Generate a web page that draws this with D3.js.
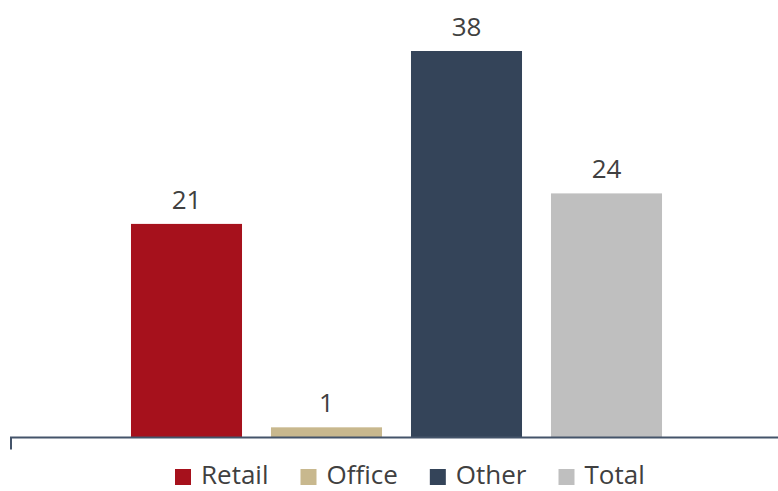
<!DOCTYPE html>
<html><head><meta charset="utf-8">
<script src="https://cdn.jsdelivr.net/npm/d3@7"></script>
<style>body{margin:0;background:#fff;} svg{display:block;}</style>
</head><body>
<svg id="c" width="778" height="491"></svg>
<script>
const categories = ["Retail", "Office", "Other", "Total"];
const values = [21, 1, 38, 24];
const colors = ["#A6111C", "#C8B88E", "#344459", "#BFBFBF"];

const svg = d3.select("#c");
const font = "'Open Sans', sans-serif";
const baseY = 437.5;
const x = d3.scaleBand().domain(categories).range([116.5, 676.5]).paddingInner(0.207).paddingOuter(0.1035);
const y = d3.scaleLinear().domain([0, 38]).range([baseY, 51]);

svg.selectAll("rect.bar").data(values).join("rect")
  .attr("class", "bar")
  .attr("x", (d, i) => x(categories[i]))
  .attr("width", x.bandwidth())
  .attr("y", d => y(d))
  .attr("height", d => baseY - y(d))
  .attr("fill", (d, i) => colors[i]);

svg.selectAll("text.lbl").data(values).join("text")
  .attr("class", "lbl")
  .attr("x", (d, i) => x(categories[i]) + x.bandwidth() / 2)
  .attr("y", d => y(d) - 15)
  .attr("text-anchor", "middle")
  .attr("font-family", font).attr("font-size", 26).attr("fill", "#404040")
  .text(d => d);

// axis
const axisG = svg.append("g").attr("transform", `translate(0,${baseY})`);
axisG.append("line").attr("x1", 10).attr("x2", 778).attr("y1", 0).attr("y2", 0)
  .attr("stroke", "#44546A").attr("stroke-width", 2);
axisG.append("line").attr("x1", 11).attr("x2", 11).attr("y1", 0).attr("y2", 12)
  .attr("stroke", "#44546A").attr("stroke-width", 2);

// legend
const lg = svg.append("g").attr("transform", "translate(175,0)");
let lx = 0;
categories.forEach((c, i) => {
  const g = lg.append("g").attr("transform", `translate(${lx},0)`);
  g.append("rect").attr("y", 469).attr("width", 16).attr("height", 16).attr("fill", colors[i]);
  const t = g.append("text").attr("x", 26).attr("y", 484).attr("font-family", font).attr("font-size", 26)
    .attr("fill", "#404040").text(c);
  lx += 26 + t.node().getComputedTextLength() + 32;
});
</script>
</body></html>
